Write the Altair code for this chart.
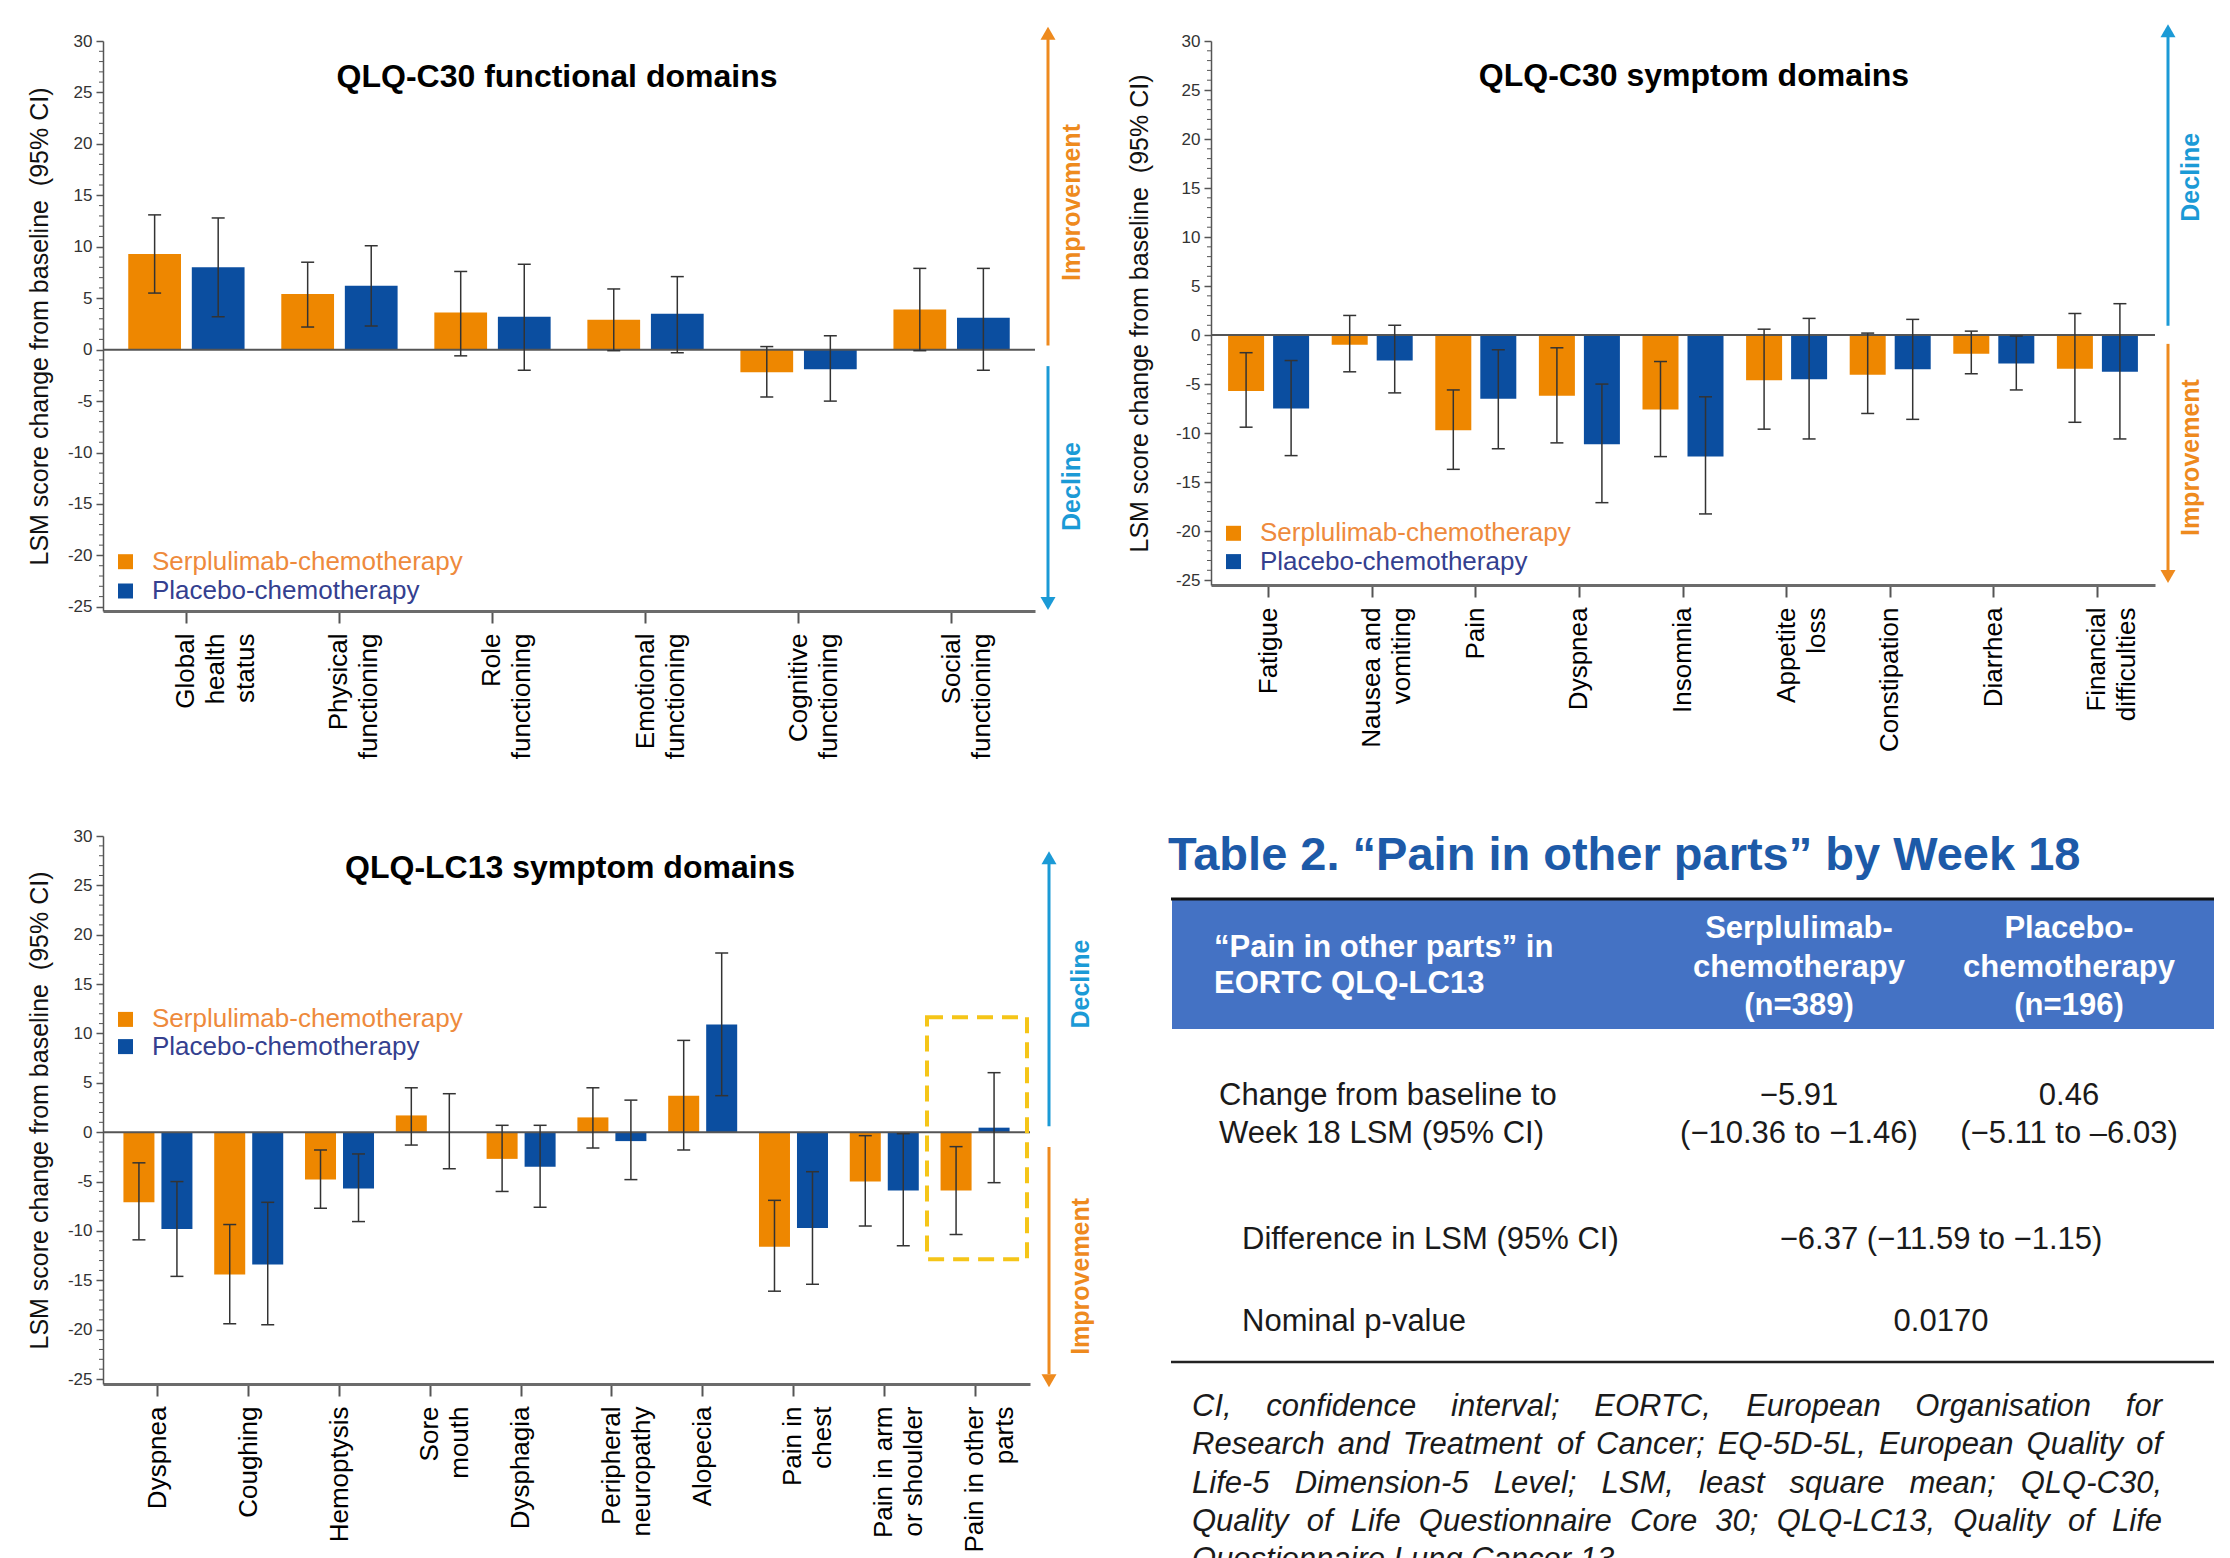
import altair as alt
import pandas as pd

FONT = "Liberation Sans"
ORANGE = "#EE8700"
BLUE = "#0B4EA0"
ARROW_ORANGE = "#EE8A1E"
ARROW_BLUE = "#1B9AD6"
LEG_ORANGE = "#EE8A3C"
LEG_BLUE = "#34408F"
GROUPS = ["Serplulimab-chemotherapy", "Placebo-chemotherapy"]

# ---------------- data: QLQ-C30 functional domains ----------------
cats1 = ["Global\nhealth\nstatus", "Physical\nfunctioning", "Role\nfunctioning",
         "Emotional\nfunctioning", "Cognitive\nfunctioning", "Social\nfunctioning"]
ser1 = [9.3, 5.4, 3.6, 2.9, -2.2, 3.9]
ser1_lo = [5.5, 2.2, -0.6, -0.1, -4.6, -0.1]
ser1_hi = [13.1, 8.5, 7.6, 5.9, 0.3, 7.9]
pla1 = [8.0, 6.2, 3.2, 3.5, -1.9, 3.1]
pla1_lo = [3.2, 2.3, -2.0, -0.3, -5.0, -2.0]
pla1_hi = [12.8, 10.1, 8.3, 7.1, 1.35, 7.9]

# ---------------- data: QLQ-C30 symptom domains ----------------
cats2 = ["Fatigue", "Nausea and\nvomiting", "Pain", "Dyspnea", "Insomnia",
         "Appetite\nloss", "Constipation", "Diarrhea", "Financial\ndifficulties"]
ser2 = [-5.7, -1.0, -9.7, -6.2, -7.6, -4.6, -4.05, -1.9, -3.45]
ser2_lo = [-9.4, -3.75, -13.7, -11.0, -12.4, -9.6, -8.0, -3.95, -8.9]
ser2_hi = [-1.8, 2.0, -5.6, -1.3, -2.7, 0.6, 0.2, 0.4, 2.2]
pla2 = [-7.5, -2.6, -6.5, -11.15, -12.4, -4.5, -3.5, -2.9, -3.75]
pla2_lo = [-12.3, -5.9, -11.6, -17.1, -18.25, -10.6, -8.6, -5.6, -10.6]
pla2_hi = [-2.6, 1.0, -1.5, -5.0, -6.3, 1.7, 1.6, -0.1, 3.2]

# ---------------- data: QLQ-LC13 symptom domains ----------------
cats3 = ["Dyspnea", "Coughing", "Hemoptysis", "Sore\nmouth", "Dysphagia",
         "Peripheral\nneuropathy", "Alopecia", "Pain in\nchest",
         "Pain in arm\nor shoulder", "Pain in other\nparts"]
ser3 = [-7.1, -14.4, -4.8, 1.7, -2.7, 1.5, 3.7, -11.6, -5.0, -5.91]
ser3_lo = [-10.9, -19.4, -7.7, -1.3, -6.0, -1.6, -1.8, -16.1, -9.5, -10.36]
ser3_hi = [-3.1, -9.35, -1.8, 4.5, 0.7, 4.5, 9.3, -6.9, -0.35, -1.46]
pla3 = [-9.8, -13.4, -5.7, 0.0, -3.5, -0.9, 10.9, -9.7, -5.9, 0.46]
pla3_lo = [-14.6, -19.5, -9.05, -3.7, -7.6, -4.8, 3.7, -15.4, -11.5, -5.11]
pla3_hi = [-5.0, -7.1, -2.2, 3.9, 0.7, 3.25, 18.15, -4.0, -0.15, 6.03]

y_ticks = list(range(-25, 31, 5))
y_title = "LSM score change from baseline\u00a0\u00a0(95% CI)"

# ---------------- table texts ----------------
table_title = "Table 2. \u201cPain in other parts\u201d by Week 18"
header_col1 = ["\u201cPain in other parts\u201d in", "EORTC QLQ-LC13"]
header_col2 = ["Serplulimab-", "chemotherapy", "(n=389)"]
header_col3 = ["Placebo-", "chemotherapy", "(n=196)"]
row1_label = ["Change from baseline to", "Week 18 LSM (95% CI)"]
row1_ser = ["\u22125.91", "(\u221210.36 to \u22121.46)"]
row1_pla = ["0.46", "(\u22125.11 to \u20136.03)"]
row2 = ["Difference in LSM (95% CI)", "\u22126.37 (\u221211.59 to \u22121.15)"]
row3 = ["Nominal p-value", "0.0170"]
footnote_lines = [
    "CI, confidence interval; EORTC, European Organisation for",
    "Research and Treatment of Cancer; EQ-5D-5L, European Quality of",
    "Life-5 Dimension-5 Level; LSM, least square mean; QLQ-C30,",
    "Quality of Life Questionnaire Core 30; QLQ-LC13, Quality of Life",
    "Questionnaire Lung Cancer 13",
]

ONE = pd.DataFrame({"k": [0]})


def panel_df(cats, s, slo, shi, p, plo, phi):
    rows = []
    for i, c in enumerate(cats):
        rows.append(dict(cat=c, group=GROUPS[0], val=s[i], lo=slo[i], hi=shi[i], zero=0.0))
        rows.append(dict(cat=c, group=GROUPS[1], val=p[i], lo=plo[i], hi=phi[i], zero=0.0))
    return pd.DataFrame(rows)


def make_panel(df, cats, title, width, height, ymin, pad_in, pad_out, sub_pad, lay):
    yscale = alt.Scale(domain=[ymin, 30], nice=False, zero=False)
    n = len(cats)
    step = width / (n - pad_in + 2 * pad_out)
    bandwidth = step * (1 - pad_in)
    xaxis = alt.Axis(title=None, labelAngle=270, labelExpr="split(datum.label, '\\n')",
                     labelFontSize=26, labelColor="#000", labelFont=FONT, labelLineHeight=30,
                     labelPadding=10, labelLimit=0, tickSize=12, tickWidth=2, tickColor="#555",
                     domainColor="#6b6b6b", domainWidth=3, labelAlign="right",
                     labelBaseline="middle", grid=False)
    x = alt.X("cat:N", sort=cats, scale=alt.Scale(paddingInner=pad_in, paddingOuter=pad_out),
              axis=xaxis)
    xo = alt.XOffset("group:N", sort=GROUPS,
                     scale=alt.Scale(domain=GROUPS, range=[0, bandwidth],
                                     paddingInner=sub_pad, paddingOuter=0))
    color = alt.Color("group:N", scale=alt.Scale(domain=GROUPS, range=[ORANGE, BLUE]), legend=None)
    yaxis = alt.Axis(title=y_title, values=y_ticks, labelFontSize=17, labelColor="#333",
                     labelExpr="(datum.value < 0 ? '-' : '') + abs(datum.value)",
                     labelFont=FONT, tickSize=7, tickWidth=1.5, tickColor="#555",
                     domainColor="#555", domainWidth=1.5, labelPadding=4, grid=False,
                     labelFlush=False, labelOverlap=False, orient="left",
                     titleFont=FONT, titleFontSize=25, titleFontWeight="normal",
                     titleColor="#111", titleX=lay["ytitle_x"], titleY=height / 2,
                     titleAngle=270, titleAlign="center", titleBaseline="middle")

    def Y(field):
        return alt.Y(field, scale=yscale, axis=yaxis)

    base = alt.Chart(df)
    layers = []
    layers.append(base.mark_bar().encode(
        x=x, xOffset=xo, y=Y("val:Q"), y2="zero:Q", color=color))
    # zero line
    layers.append(alt.Chart(pd.DataFrame({"val": [0.0]})).mark_rule(color="#555", strokeWidth=2)
                  .encode(y=Y("val:Q")))
    # minor ticks on the y axis
    minor = pd.DataFrame({"val": [v for v in range(-25, 31) if v % 5 != 0]})
    layers.append(alt.Chart(minor).mark_rule(color="#555", strokeWidth=1).encode(
        y=Y("val:Q"), x=alt.value(-4), x2=alt.value(0)))
    # error bars
    layers.append(base.mark_rule(color="#333", strokeWidth=1.5).encode(
        x=x, xOffset=xo, y=Y("lo:Q"), y2="hi:Q"))
    for f in ["lo", "hi"]:
        layers.append(base.mark_tick(color="#333", thickness=1.5, size=13, opacity=1).encode(
            x=x, xOffset=xo, y=Y(f + ":Q")))
    # title
    layers.append(alt.Chart(ONE).mark_text(font=FONT, fontSize=32, fontWeight="bold",
                                           color="#000", align="center", baseline="alphabetic")
                  .encode(x=alt.value(lay["title_x"]), y=alt.value(lay["title_y"]),
                          text=alt.value(title)))
    # legend
    for i, (g, sc, tc) in enumerate(zip(GROUPS, [ORANGE, BLUE], [LEG_ORANGE, LEG_BLUE])):
        ly = lay["leg_y"][i]
        layers.append(alt.Chart(ONE).mark_square(size=225, filled=True, opacity=1, color=sc)
                      .encode(x=alt.value(22.5), y=alt.value(ly)))
        layers.append(alt.Chart(ONE).mark_text(font=FONT, fontSize=26, color=tc, align="left",
                                               baseline="middle")
                      .encode(x=alt.value(49), y=alt.value(ly), text=alt.value(g)))
    # arrows and labels on the right
    ax = lay["arrow_x"]
    for (lo, hi, head, shape, col) in lay["arrows"]:
        layers.append(alt.Chart(pd.DataFrame({"val": [lo], "b": [hi]}))
                      .mark_rule(color=col, strokeWidth=3)
                      .encode(x=alt.value(ax), y=Y("val:Q"), y2="b:Q"))
        layers.append(alt.Chart(pd.DataFrame({"val": [head]}))
                      .mark_point(shape=shape, filled=True, size=225, color=col, opacity=1)
                      .encode(x=alt.value(ax), y=Y("val:Q")))
    for (txt, yv, col) in lay["arrow_text"]:
        layers.append(alt.Chart(pd.DataFrame({"val": [yv]}))
                      .mark_text(font=FONT, fontSize=25, fontWeight="bold", color=col,
                                 angle=270, align="center", baseline="middle")
                      .encode(x=alt.value(lay["text_x"]), y=Y("val:Q"),
                              text=alt.value(txt)))
    if "box" in lay:
        bx0, bx1, by0, by1 = lay["box"]
        layers.append(alt.Chart(pd.DataFrame({"val": [by0], "b": [by1]}))
                      .mark_rect(fillOpacity=0, stroke="#F5C518", strokeWidth=4,
                                 strokeDash=[16, 9])
                      .encode(x=alt.value(bx0), x2=alt.value(bx1),
                              y=Y("val:Q"), y2="b:Q"))
    if lay.get("anchor"):
        layers.append(alt.Chart(ONE).mark_rect(color="#ffffff").encode(
            x=alt.value(-95), x2=alt.value(-93), y=alt.value(-33), y2=alt.value(-31)))
    return alt.layer(*layers).properties(width=width, height=height)


p1 = make_panel(
    panel_df(cats1, ser1, ser1_lo, ser1_hi, pla1, pla1_lo, pla1_hi), cats1,
    "QLQ-C30 functional domains", 932, 570, -25.4, 0.24, 0.165, 0.17,
    dict(ytitle_x=-64, title_x=454, title_y=46, leg_y=[520.7, 550],
         arrow_x=945, text_x=969,
         arrows=[(0.4, 30.2, 30.76, "triangle-up", ARROW_ORANGE),
                 (-1.6, -24.3, -24.66, "triangle-down", ARROW_BLUE)],
         arrow_text=[("Improvement", 14.3, ARROW_ORANGE), ("Decline", -13.3, ARROW_BLUE)],
         anchor=True))

p2 = make_panel(
    panel_df(cats2, ser2, ser2_lo, ser2_hi, pla2, pla2_lo, pla2_hi), cats2,
    "QLQ-C30 symptom domains", 944, 544, -25.5, 0.218, 0.165, 0.2,
    dict(ytitle_x=-72, title_x=483, title_y=45, leg_y=[492.3, 520.6],
         arrow_x=957, text_x=980,
         arrows=[(0.95, 30.4, 31.04, "triangle-up", ARROW_BLUE),
                 (-0.9, -24.0, -24.64, "triangle-down", ARROW_ORANGE)],
         arrow_text=[("Decline", 16.1, ARROW_BLUE), ("Improvement", -12.5, ARROW_ORANGE)]))

p3 = make_panel(
    panel_df(cats3, ser3, ser3_lo, ser3_hi, pla3, pla3_lo, pla3_hi), cats3,
    "QLQ-LC13 symptom domains", 927, 548, -25.5, 0.24, 0.225, 0.184,
    dict(ytitle_x=-64, title_x=467, title_y=42, leg_y=[183.4, 210.6],
         arrow_x=946, text_x=978,
         arrows=[(0.6, 27.2, 27.8, "triangle-up", ARROW_BLUE),
                 (-1.5, -24.5, -25.18, "triangle-down", ARROW_ORANGE)],
         arrow_text=[("Decline", 15.0, ARROW_BLUE), ("Improvement", -14.6, ARROW_ORANGE)],
         box=(824, 924, 11.65, -12.87)))

# ---------------- table ----------------
ARIAL = dict(zip("abcdefghijklmnopqrstuvwxyz",
                 [556, 556, 500, 556, 556, 278, 556, 556, 222, 222, 500, 222, 833, 556, 556,
                  556, 556, 333, 500, 278, 556, 500, 722, 500, 500, 500]))
ARIAL.update(dict(zip("ABCDEFGHIJKLMNOPQRSTUVWXYZ",
                      [667, 667, 722, 722, 667, 611, 778, 722, 278, 500, 667, 556, 833, 722,
                       778, 667, 778, 722, 667, 611, 722, 667, 944, 667, 667, 611])))
ARIAL.update({c: 556 for c in "0123456789"})
ARIAL.update({" ": 278, ",": 278, ";": 278, ".": 278, "-": 333, "(": 333, ")": 333, ":": 278})


def tw(s, size):
    return sum(ARIAL.get(ch, 556) for ch in s) * size / 1000.0


TXT = "#1a1a1a"


def txt(t, x, y, size=31, weight="normal", color=TXT, align="left", style="normal"):
    return alt.Chart(ONE).mark_text(font=FONT, fontSize=size, fontWeight=weight, color=color,
                                    align=align, baseline="alphabetic", fontStyle=style) \
        .encode(x=alt.value(x), y=alt.value(y), text=alt.value(t))


tl = []
tl.append(alt.Chart(ONE).mark_rect(color="#4472C4").encode(
    x=alt.value(-39), x2=alt.value(1003), y=alt.value(64), y2=alt.value(193)))
tl.append(alt.Chart(ONE).mark_rule(color="#111", strokeWidth=3).encode(
    x=alt.value(-40), x2=alt.value(1003), y=alt.value(63)))
tl.append(alt.Chart(ONE).mark_rule(color="#222", strokeWidth=2.5).encode(
    x=alt.value(-40), x2=alt.value(1003), y=alt.value(526)))
tl.append(txt(table_title, -43, 34, size=47, weight="bold", color="#1D5AA8"))
for i, t in enumerate(header_col1):
    tl.append(txt(t, 3, 121 + 36 * i, weight="bold", color="#ffffff"))
for i, t in enumerate(header_col2):
    tl.append(txt(t, 588, 102 + 38.5 * i, weight="bold", color="#ffffff", align="center"))
for i, t in enumerate(header_col3):
    tl.append(txt(t, 858, 102 + 38.5 * i, weight="bold", color="#ffffff", align="center"))
for i, t in enumerate(row1_label):
    tl.append(txt(t, 8, 269 + 38 * i))
for i, t in enumerate(row1_ser):
    tl.append(txt(t, 588, 269 + 38 * i, align="center"))
for i, t in enumerate(row1_pla):
    tl.append(txt(t, 858, 269 + 38 * i, align="center"))
tl.append(txt(row2[0], 31, 413))
tl.append(txt(row2[1], 730, 413, align="center"))
tl.append(txt(row3[0], 31, 495))
tl.append(txt(row3[1], 730, 495, align="center"))

# justified italic footnote
FS = 31
fx0, fx1 = -19, 951
words = []
for i, line in enumerate(footnote_lines):
    ws = line.split()
    yy = 580 + 38.3 * i
    if i < len(footnote_lines) - 1:
        gap = (fx1 - fx0 - sum(tw(w, FS) for w in ws)) / (len(ws) - 1)
    else:
        gap = tw(" ", FS)
    xx = fx0
    for w in ws:
        words.append(dict(w=w, x=xx, y=yy))
        xx += tw(w, FS) + gap
tl.append(alt.Chart(pd.DataFrame(words)).mark_text(
    font=FONT, fontSize=FS, fontStyle="italic", color=TXT, align="left", baseline="alphabetic")
    .encode(x=alt.X("x:Q", scale=None, axis=None), y=alt.Y("y:Q", scale=None, axis=None),
            text="w:N"))

table = alt.layer(*tl).properties(width=944, height=548)

chart = alt.concat(p1, p2, p3, table, columns=2, spacing={"row": 225, "column": 176},
                   bounds="flush", padding=0).resolve_scale(
    xOffset="independent", x="independent", y="independent"
).configure_view(stroke=None)

chart.save("out.html", embed_options={"renderer": "svg", "actions": False})
